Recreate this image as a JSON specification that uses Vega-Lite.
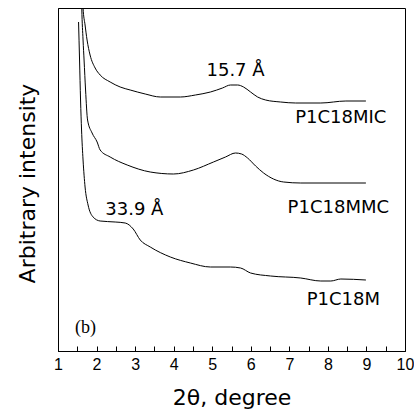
{
  "$schema": "https://vega.github.io/schema/vega-lite/v6.json",
  "width": 347,
  "height": 343,
  "autosize": "none",
  "padding": {"left": 58, "top": 8, "right": 9, "bottom": 64},
  "background": "white",
  "config": {
    "view": {"stroke": "black", "strokeWidth": 1},
    "axis": {"domainColor": "black", "tickColor": "black", "labelColor": "black", "titleColor": "black", "grid": false},
    "axisX": {
      "tickSize": -5,
      "labelPadding": 10,
      "labelFont": "Liberation Sans",
      "labelFontSize": 16,
      "labelOverlap": false,
      "labelFlush": false,
      "labelBound": false,
      "titleFont": "DejaVu Sans",
      "titleFontSize": 22,
      "titleFontWeight": "normal"
    },
    "axisY": {
      "ticks": false,
      "labels": false,
      "titleFont": "DejaVu Sans",
      "titleFontSize": 22,
      "titleFontWeight": "normal"
    }
  },
  "encoding": {
    "x": {
      "field": "x", "type": "quantitative",
      "scale": {"domain": [1, 10], "nice": false, "zero": false},
      "axis": {
        "values": [1, 1.5, 2, 2.5, 3, 3.5, 4, 4.5, 5, 5.5, 6, 6.5, 7, 7.5, 8, 8.5, 9, 9.5, 10],
        "labelExpr": "datum.value % 1 === 0 ? format(datum.value, 'd') : ''",
        "title": "2θ, degree",
        "titleBaseline": "middle",
        "titleX": 173.5,
        "titleY": 46
      }
    },
    "y": {
      "field": "y", "type": "quantitative",
      "scale": {"domain": [0, 343], "nice": false, "zero": false},
      "axis": {
        "title": "Arbitrary intensity",
        "titleAngle": -90,
        "titleBaseline": "middle",
        "titleX": -31,
        "titleY": 175
      }
    }
  },
  "layer": [
    {
      "data": {"values": [
        {"series": "MIC", "x": 1.640, "y": 352},
        {"series": "MIC", "x": 1.650, "y": 343},
        {"series": "MIC", "x": 1.702, "y": 326},
        {"series": "MIC", "x": 1.754, "y": 311},
        {"series": "MIC", "x": 1.832, "y": 296},
        {"series": "MIC", "x": 1.963, "y": 283},
        {"series": "MIC", "x": 2.093, "y": 276},
        {"series": "MIC", "x": 2.353, "y": 269},
        {"series": "MIC", "x": 2.613, "y": 264},
        {"series": "MIC", "x": 2.873, "y": 261},
        {"series": "MIC", "x": 3.263, "y": 257},
        {"series": "MIC", "x": 3.654, "y": 254},
        {"series": "MIC", "x": 4.174, "y": 254},
        {"series": "MIC", "x": 4.564, "y": 256},
        {"series": "MIC", "x": 4.954, "y": 259},
        {"series": "MIC", "x": 5.266, "y": 263},
        {"series": "MIC", "x": 5.474, "y": 266},
        {"series": "MIC", "x": 5.657, "y": 266},
        {"series": "MIC", "x": 5.813, "y": 264},
        {"series": "MIC", "x": 5.995, "y": 259},
        {"series": "MIC", "x": 6.177, "y": 254},
        {"series": "MIC", "x": 6.385, "y": 251},
        {"series": "MIC", "x": 6.775, "y": 249},
        {"series": "MIC", "x": 7.165, "y": 248},
        {"series": "MIC", "x": 7.816, "y": 248},
        {"series": "MIC", "x": 8.466, "y": 250},
        {"series": "MIC", "x": 8.986, "y": 250},
        {"series": "MMC", "x": 1.612, "y": 352},
        {"series": "MMC", "x": 1.617, "y": 343},
        {"series": "MMC", "x": 1.650, "y": 311},
        {"series": "MMC", "x": 1.676, "y": 291},
        {"series": "MMC", "x": 1.715, "y": 261},
        {"series": "MMC", "x": 1.767, "y": 231},
        {"series": "MMC", "x": 1.884, "y": 218},
        {"series": "MMC", "x": 2.015, "y": 209},
        {"series": "MMC", "x": 2.093, "y": 201},
        {"series": "MMC", "x": 2.353, "y": 194},
        {"series": "MMC", "x": 2.795, "y": 186},
        {"series": "MMC", "x": 3.393, "y": 179},
        {"series": "MMC", "x": 3.992, "y": 177},
        {"series": "MMC", "x": 4.512, "y": 181},
        {"series": "MMC", "x": 5.032, "y": 189},
        {"series": "MMC", "x": 5.344, "y": 194},
        {"series": "MMC", "x": 5.604, "y": 198},
        {"series": "MMC", "x": 5.761, "y": 197},
        {"series": "MMC", "x": 5.917, "y": 193},
        {"series": "MMC", "x": 6.125, "y": 185},
        {"series": "MMC", "x": 6.333, "y": 178},
        {"series": "MMC", "x": 6.853, "y": 169},
        {"series": "MMC", "x": 7.296, "y": 168},
        {"series": "MMC", "x": 8.986, "y": 168},
        {"series": "M", "x": 1.533, "y": 329},
        {"series": "M", "x": 1.559, "y": 291},
        {"series": "M", "x": 1.585, "y": 251},
        {"series": "M", "x": 1.611, "y": 221},
        {"series": "M", "x": 1.650, "y": 191},
        {"series": "M", "x": 1.702, "y": 164},
        {"series": "M", "x": 1.780, "y": 146},
        {"series": "M", "x": 1.910, "y": 134},
        {"series": "M", "x": 2.093, "y": 130},
        {"series": "M", "x": 2.483, "y": 129},
        {"series": "M", "x": 2.743, "y": 128},
        {"series": "M", "x": 2.951, "y": 122},
        {"series": "M", "x": 3.133, "y": 111},
        {"series": "M", "x": 3.393, "y": 104},
        {"series": "M", "x": 3.914, "y": 94},
        {"series": "M", "x": 4.434, "y": 88},
        {"series": "M", "x": 4.954, "y": 84},
        {"series": "M", "x": 5.474, "y": 84},
        {"series": "M", "x": 5.735, "y": 83},
        {"series": "M", "x": 5.995, "y": 78},
        {"series": "M", "x": 6.515, "y": 75},
        {"series": "M", "x": 7.296, "y": 73},
        {"series": "M", "x": 7.816, "y": 70},
        {"series": "M", "x": 8.076, "y": 70},
        {"series": "M", "x": 8.336, "y": 72},
        {"series": "M", "x": 8.986, "y": 71}
      ]},
      "mark": {"type": "line", "color": "black", "strokeWidth": 1, "clip": true, "interpolate": "monotone"},
      "encoding": {
        "detail": {"field": "series", "type": "nominal"}
      }
    },
    {
      "data": {"values": [
        {"label": "15.7 Å", "x": 5.605, "y": 280},
        {"label": "P1C18MIC", "x": 8.336, "y": 233},
        {"label": "P1C18MMC", "x": 8.27, "y": 143},
        {"label": "33.9 Å", "x": 2.98, "y": 141},
        {"label": "P1C18M", "x": 8.40, "y": 51}
      ]},
      "mark": {"type": "text", "font": "DejaVu Sans", "fontSize": 18, "color": "black", "align": "center", "baseline": "middle"},
      "encoding": {
        "text": {"field": "label"}
      }
    },
    {
      "data": {"values": [{"label": "(b)", "x": 1.715, "y": 23}]},
      "mark": {"type": "text", "font": "Liberation Serif", "fontSize": 18, "color": "black", "align": "center", "baseline": "middle"},
      "encoding": {
        "text": {"field": "label"}
      }
    }
  ]
}
